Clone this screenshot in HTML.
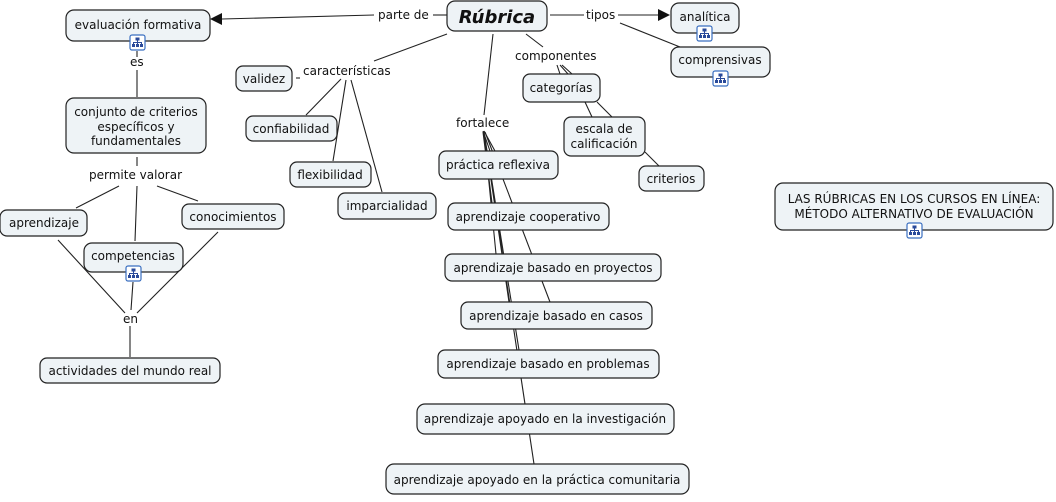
<!DOCTYPE html>
<html><head><meta charset="utf-8"><style>
body{margin:0;background:#fff}
svg text{font-family:"DejaVu Sans","Liberation Sans",sans-serif;font-size:12px;fill:#111}
.b{fill:#eef3f6;stroke:#222;stroke-width:1.2}
.l{stroke:#222;stroke-width:1.1;fill:none}
</style></head><body>
<svg width="1056" height="497" xmlns="http://www.w3.org/2000/svg">
<defs>
<g id="ic"><rect x="0" y="0" width="15" height="15" rx="2" fill="#fff" stroke="#3a6fc0" stroke-width="1.2"/><rect x="5.5" y="2.5" width="4" height="3" fill="#2a4a9a"/><path d="M7.5 5.5v2M3.5 9V7.5h8V9M7.5 7.5V9" stroke="#2a4a9a" fill="none"/><rect x="2" y="9" width="3" height="3" fill="#2a4a9a"/><rect x="6" y="9" width="3" height="3" fill="#2a4a9a"/><rect x="10" y="9" width="3" height="3" fill="#2a4a9a"/></g>
</defs>
<!-- lines -->
<g class="l">
<path d="M374 15L222 19"/><path d="M433 15H447"/>
<path d="M550 15H584M618 15H660"/><path d="M620 23L680 47"/>
<path d="M447 34L374 61"/><path d="M296 78H300"/>
<path d="M341 79L306 115M346 80L333 161M351 80L382 192"/>
<path d="M493 34L484 115"/><path d="M526 34L543 47"/>
<path d="M557 65L560 74M560 65L568 74M562 65L572 74"/>
<path d="M585 102L592 117M597 102L613 118"/>
<path d="M645 152L659 166"/>
<path d="M483 131L490 151M484 131L495 151"/>
<path d="M483 132L492 203M484 132L496 254M484 132L509 302M484 132L519 350M484 132L525 404M484 132L534 464M485 132L550 302"/>
<path d="M137 51V57M137 70V97"/>
<path d="M137 157V166"/><path d="M119 186L76 208M137 186L135 241M157 186L198 201"/>
<path d="M58 240L125 313M218 232L137 313M133 282L131 310"/>
<path d="M130 326V357"/>
</g>
<polygon points="210,19 222,13 222,25" fill="#111"/>
<polygon points="670,15 658,9 658,21" fill="#111"/>
<!-- label bgs -->
<g>
<text x="378" y="19">parte de</text>
<text x="586" y="19">tipos</text>
<text x="303" y="75">características</text>
<text x="515" y="60">componentes</text>
<text x="456" y="127">fortalece</text>
<text x="130" y="66">es</text>
<text x="89" y="179">permite valorar</text>
<text x="123" y="323">en</text>
</g>
<!-- boxes -->
<rect class="b" x="66" y="10" width="144" height="31" rx="8"/><text x="138" y="29" text-anchor="middle">evaluación formativa</text>
<use href="#ic" x="130" y="35"/>
<rect class="b" x="447" y="1" width="100" height="30" rx="8"/><text x="497" y="23" text-anchor="middle" style="font-size:18px;font-weight:bold;font-style:italic">Rúbrica</text>
<rect class="b" x="671" y="3" width="68" height="30" rx="8"/><text x="705" y="21" text-anchor="middle">analítica</text>
<use href="#ic" x="697" y="26"/>
<rect class="b" x="671" y="47" width="99" height="30" rx="8"/><text x="720" y="64" text-anchor="middle">comprensivas</text>
<use href="#ic" x="713" y="71"/>
<rect class="b" x="236" y="66" width="56" height="25" rx="7"/><text x="264" y="83" text-anchor="middle">validez</text>
<rect class="b" x="246" y="116" width="91" height="25" rx="7"/><text x="291" y="133" text-anchor="middle">confiabilidad</text>
<rect class="b" x="290" y="162" width="81" height="25" rx="7"/><text x="330" y="179" text-anchor="middle">flexibilidad</text>
<rect class="b" x="338" y="193" width="98" height="26" rx="7"/><text x="387" y="210" text-anchor="middle">imparcialidad</text>
<rect class="b" x="66" y="98" width="140" height="55" rx="8"/><text x="136" y="116" text-anchor="middle">conjunto de criterios</text><text x="136" y="131" text-anchor="middle">específicos y</text><text x="136" y="145" text-anchor="middle">fundamentales</text>
<rect class="b" x="0" y="210" width="87" height="26" rx="7"/><text x="44" y="227" text-anchor="middle">aprendizaje</text>
<rect class="b" x="182" y="204" width="102" height="25" rx="7"/><text x="233" y="221" text-anchor="middle">conocimientos</text>
<rect class="b" x="84" y="243" width="99" height="29" rx="8"/><text x="133" y="260" text-anchor="middle">competencias</text>
<use href="#ic" x="126" y="266"/>
<rect class="b" x="40" y="358" width="180" height="25" rx="7"/><text x="130" y="375" text-anchor="middle">actividades del mundo real</text>
<rect class="b" x="523" y="74" width="77" height="28" rx="7"/><text x="561" y="92" text-anchor="middle">categorías</text>
<rect class="b" x="564" y="117" width="81" height="39" rx="7"/><text x="604" y="133" text-anchor="middle">escala de</text><text x="604" y="148" text-anchor="middle">calificación</text>
<rect class="b" x="639" y="166" width="65" height="25" rx="7"/><text x="671" y="183" text-anchor="middle">criterios</text>
<rect class="b" x="439" y="151" width="119" height="28" rx="7"/><text x="498" y="169" text-anchor="middle">práctica reflexiva</text>
<rect class="b" x="448" y="203" width="161" height="27" rx="7"/><text x="528" y="221" text-anchor="middle">aprendizaje cooperativo</text>
<rect class="b" x="445" y="254" width="216" height="27" rx="7"/><text x="553" y="272" text-anchor="middle">aprendizaje basado en proyectos</text>
<rect class="b" x="461" y="302" width="191" height="27" rx="7"/><text x="556" y="320" text-anchor="middle">aprendizaje basado en casos</text>
<rect class="b" x="438" y="350" width="221" height="28" rx="7"/><text x="548" y="368" text-anchor="middle">aprendizaje basado en problemas</text>
<rect class="b" x="417" y="404" width="257" height="30" rx="8"/><text x="545" y="423" text-anchor="middle">aprendizaje apoyado en la investigación</text>
<rect class="b" x="386" y="464" width="303" height="30" rx="8"/><text x="537" y="484" text-anchor="middle">aprendizaje apoyado en la práctica comunitaria</text>
<rect class="b" x="775" y="183" width="278" height="47" rx="8"/><text x="914" y="203" text-anchor="middle">LAS RÚBRICAS EN LOS CURSOS EN LÍNEA:</text><text x="914" y="218" text-anchor="middle">MÉTODO ALTERNATIVO DE EVALUACIÓN</text>
<use href="#ic" x="907" y="223"/>
</svg>
</body></html>
